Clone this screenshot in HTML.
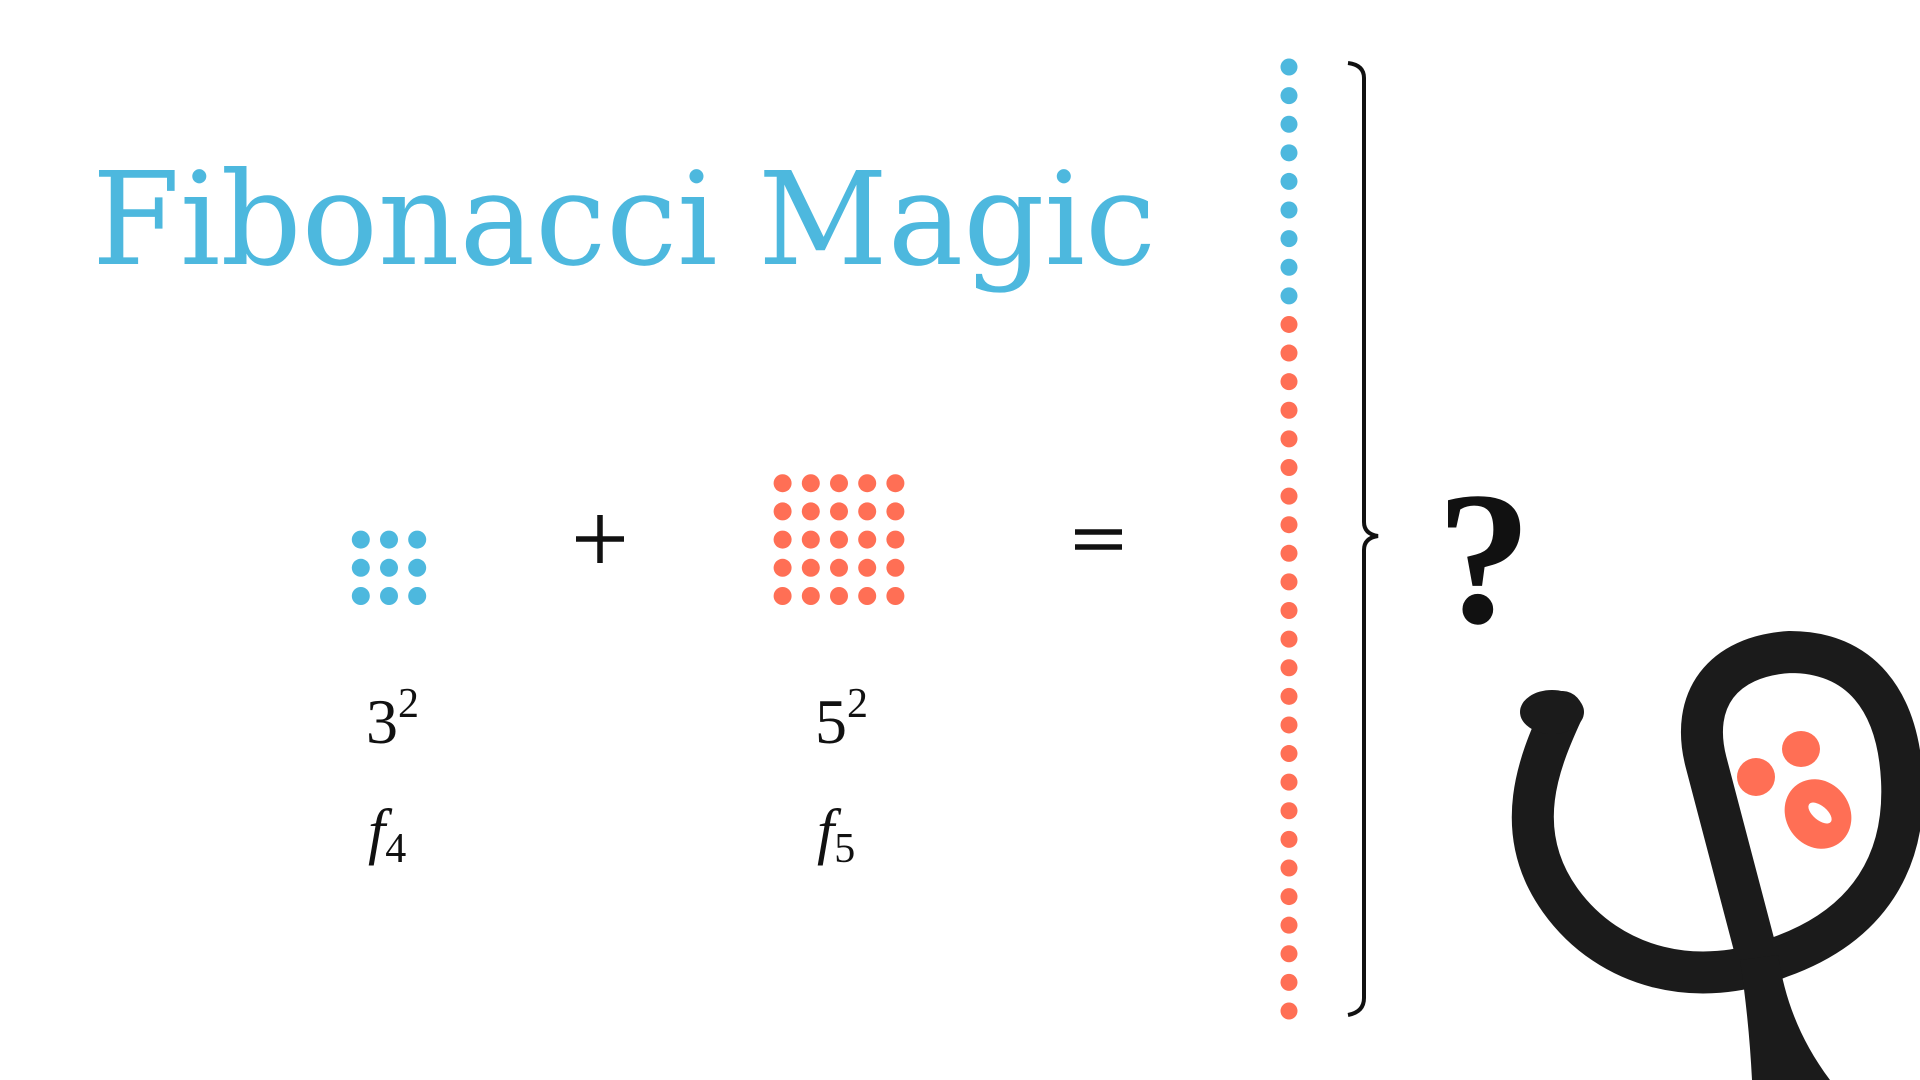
<!DOCTYPE html>
<html><head><meta charset="utf-8"><style>
html,body{margin:0;padding:0;background:#fff;width:1920px;height:1080px;overflow:hidden}
svg{display:block}
</style></head><body>
<svg id="scene" width="1920" height="1080" viewBox="0 0 1920 1080" xmlns="http://www.w3.org/2000/svg">
<text x="92" y="264" font-family="'DejaVu Serif', 'Liberation Serif', serif" font-size="129" fill="#4db8de" textLength="1064" lengthAdjust="spacingAndGlyphs">Fibonacci Magic</text>
<g id="grids"></g>
<g id="column"></g>
<g stroke="#111" stroke-width="5.5">
<line x1="576" y1="539" x2="624" y2="539"/><line x1="600" y1="515" x2="600" y2="563"/></g>
<g stroke="#111" stroke-width="5.5">
<line x1="1075" y1="532" x2="1122" y2="532"/><line x1="1075" y1="547" x2="1122" y2="547"/></g>
<text x="366" y="743" font-family="'Liberation Serif', serif" font-size="64" fill="#111">3<tspan dy="-26" font-size="42">2</tspan></text>
<text x="815" y="743" font-family="'Liberation Serif', serif" font-size="64" fill="#111">5<tspan dy="-26" font-size="42">2</tspan></text>
<text x="368" y="852" font-family="'Liberation Serif', serif" font-style="italic" font-size="62" fill="#111">f<tspan dy="10" font-style="normal" font-size="42">4</tspan></text>
<text x="817" y="852" font-family="'Liberation Serif', serif" font-style="italic" font-size="62" fill="#111">f<tspan dy="10" font-style="normal" font-size="42">5</tspan></text>
<path d="M1348,63 Q1364,65 1364,78 L1364,522 Q1364,534 1378,536 Q1364,538 1364,550 L1364,998 Q1364,1012 1348,1015" fill="none" stroke="#111" stroke-width="4"/>
<text x="1484" y="622" text-anchor="middle" font-family="'Liberation Serif', serif" font-weight="bold" font-size="190" fill="#111">?</text>
<g>
<path d="M1562,712 C1540,760 1510,830 1560,900 C1610,970 1700,990 1780,957 C1870,925 1906,860 1902,780 C1898,700 1860,652 1790,652 C1722,656 1690,700 1706,762 L1762,975" fill="none" stroke="#1b1b1b" stroke-width="42" stroke-linecap="round"/>
<ellipse cx="1552" cy="712" rx="32" ry="22" fill="#1b1b1b"/>
<path d="M1740,960 L1778,955 C1785,1000 1800,1040 1830,1080 L1752,1080 C1750,1040 1746,1000 1740,960 Z" fill="#1b1b1b"/>
<ellipse cx="1756" cy="777" rx="19" ry="19" fill="#ff6f55"/>
<ellipse cx="1801" cy="749" rx="19" ry="18" fill="#ff6f55"/>
<ellipse cx="1818" cy="814" rx="32" ry="36" transform="rotate(-35 1818 814)" fill="#ff6f55"/>
<ellipse cx="1820" cy="813" rx="7" ry="14" transform="rotate(-50 1820 813)" fill="#fff"/>
</g>
</svg>
<script>
const blueRows = 3, blueCols = 3;
const redRows = 5, redCols = 5;
const columnBlue = 9;
const columnRed = 25;
const BLUE = '#4db8de', RED = '#ff6f55';
const NS = 'http://www.w3.org/2000/svg';
const gridsEl = document.getElementById('grids');
const colEl = document.getElementById('column');
const gridStep = 28.2;
function dot(parent, x, y, r, fill) {
  const c = document.createElementNS(NS, 'circle');
  c.setAttribute('cx', x); c.setAttribute('cy', y); c.setAttribute('r', r); c.setAttribute('fill', fill);
  
  
  parent.appendChild(c);
}
function grid(rows, cols, cx, fill) {
  for (let r = 0; r < rows; r++) for (let c = 0; c < cols; c++) {
    dot(gridsEl, cx + (c - (cols - 1) / 2) * gridStep, 596 - (rows - 1 - r) * gridStep, 9, fill);
  }
}
grid(blueRows, blueCols, 389, BLUE);
grid(redRows, redCols, 839, RED);
const totalDots = columnBlue + columnRed;
const colTop = 67, colBottom = 1011;
const cstep = (colBottom - colTop) / (totalDots - 1);
for (let i = 0; i < totalDots; i++) dot(colEl, 1289, colTop + i * cstep, 8.5, i < columnBlue ? BLUE : RED);
</script>
</body></html>
